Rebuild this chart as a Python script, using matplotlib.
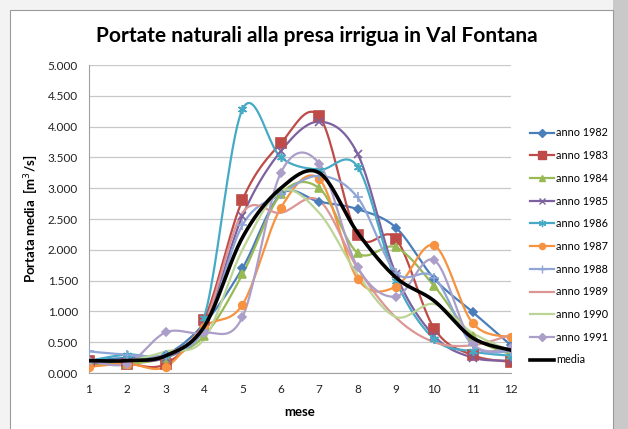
import numpy as np
import matplotlib.pyplot as plt
from matplotlib.patches import Rectangle
from matplotlib.ticker import FuncFormatter

plt.rcParams["font.family"] = ["Lato", "DejaVu Sans"]

mesi = np.arange(1, 13)

anno_1982 = [0.20, 0.25, 0.30, 0.80, 1.70, 2.90, 2.78, 2.66, 2.36, 1.53, 0.99, 0.45]
anno_1983 = [0.20, 0.15, 0.15, 0.86, 2.81, 3.73, 4.17, 2.24, 2.18, 0.72, 0.29, 0.18]
anno_1984 = [0.15, 0.15, 0.25, 0.60, 1.60, 2.90, 3.00, 1.95, 2.04, 1.41, 0.60, 0.30]
anno_1985 = [0.15, 0.20, 0.25, 0.75, 2.55, 3.60, 4.08, 3.56, 1.60, 0.60, 0.25, 0.20]
anno_1986 = [0.20, 0.30, 0.30, 0.90, 4.28, 3.50, 3.30, 3.35, 1.50, 0.55, 0.35, 0.28]
anno_1987 = [0.10, 0.15, 0.10, 0.75, 1.11, 2.68, 3.15, 1.53, 1.40, 2.07, 0.81, 0.58]
anno_1988 = [0.35, 0.30, 0.30, 0.70, 2.40, 2.90, 3.20, 2.85, 1.63, 1.55, 0.45, 0.35]
anno_1989 = [0.20, 0.20, 0.30, 0.80, 2.60, 2.60, 2.80, 1.70, 0.90, 0.50, 0.45, 0.62]
anno_1990 = [0.20, 0.20, 0.35, 0.55, 2.00, 2.95, 2.60, 1.60, 0.91, 1.12, 0.65, 0.35]
anno_1991 = [0.20, 0.15, 0.66, 0.65, 0.91, 3.25, 3.40, 1.72, 1.24, 1.83, 0.48, 0.40]
media     = [0.20, 0.20, 0.28, 0.75, 2.20, 3.00, 3.25, 2.28, 1.55, 1.17, 0.57, 0.37]

serie = [
    ("anno 1982", anno_1982, "#4a7ebb", "D", 4.5),
    ("anno 1983", anno_1983, "#be4b48", "s", 6.5),
    ("anno 1984", anno_1984, "#98b954", "^", 5.5),
    ("anno 1985", anno_1985, "#7d60a0", "x", 5.5),
    ("anno 1986", anno_1986, "#46aac5", (6, 2, 0), 6.5),
    ("anno 1987", anno_1987, "#f69240", "o", 5.5),
    ("anno 1988", anno_1988, "#8ea5d6", "+", 6.5),
    ("anno 1989", anno_1989, "#dc9694", None, 0),
    ("anno 1990", anno_1990, "#bcd597", None, 0),
    ("anno 1991", anno_1991, "#ab9ec8", "D", 4.5),
]


# curva liscia tipo Excel (Catmull-Rom / Bezier)
def liscia(x, y, n=24):
    p = np.column_stack([x, y]).astype(float)
    p = np.vstack([p[0], p, p[-1]])
    out = []
    t = np.linspace(0, 1, n)[:, None]
    for i in range(1, len(p) - 2):
        p0, p1, p2, p3 = p[i - 1], p[i], p[i + 1], p[i + 2]
        c1 = p1 + (p2 - p0) / 6
        c2 = p2 - (p3 - p1) / 6
        seg = ((1 - t) ** 3) * p1 + 3 * ((1 - t) ** 2) * t * c1 \
            + 3 * (1 - t) * t ** 2 * c2 + t ** 3 * p2
        out.append(seg if i == 1 else seg[1:])
    out = np.vstack(out)
    return out[:, 0], out[:, 1]


fig = plt.figure(figsize=(6.28, 4.29), dpi=100)
fig.patch.set_facecolor("#f3f3f3")
W, H = 628, 429
fig.add_artist(Rectangle((613 / W, 0), 15 / W, 1, transform=fig.transFigure,
                         facecolor="#c9c9c9", edgecolor="none", zorder=0))
fig.add_artist(Rectangle((10 / W, -0.01), 603 / W, 1 - 10 / H + 0.01,
                         transform=fig.transFigure, facecolor="white",
                         edgecolor="#9a9a9a", linewidth=0.8, zorder=0))

ax = fig.add_axes([89 / W, 1 - 373 / H, (511 - 89) / W, (373 - 65) / H])
ax.set_facecolor("white")

for nome, val, col, mk, ms in serie:
    xs, ys = liscia(mesi, val)
    ax.plot(xs, ys, color=col, lw=1.6, zorder=2)
    if mk is not None:
        ax.plot(mesi, val, linestyle="none", marker=mk, markersize=ms,
                color=col, markeredgecolor=col, markeredgewidth=1.2, zorder=3)
xs, ys = liscia(mesi, media)
ax.plot(xs, ys, color="black", lw=2.6, zorder=4)

# legenda
handles = []
for nome, val, col, mk, ms in serie:
    h, = ax.plot([], [], color=col, lw=1.6, marker=mk, markersize=ms * 0.8,
                 markeredgecolor=col, markeredgewidth=1.0, label=nome)
    handles.append(h)
h, = ax.plot([], [], color="black", lw=2.6, label="media")
handles.append(h)
fig.legend(handles=handles, loc="upper left", bbox_to_anchor=(525 / W, 1 - 122 / H),
           frameon=False, handlelength=2.2, handletextpad=0.15,
           labelspacing=1.08, borderpad=0,
           prop={"family": "Lato", "size": 7.8})

ax.set_xlim(1, 12)
ax.set_ylim(0, 5)
ax.set_xticks(mesi)
ax.set_yticks(np.arange(0, 5.01, 0.5))
ax.yaxis.set_major_formatter(FuncFormatter(lambda v, p: f"{v:.3f}"))
ax.grid(axis="y", color="#c8c8c8", lw=0.9)
ax.set_axisbelow(True)
for s in ["top", "right"]:
    ax.spines[s].set_visible(False)
for s in ["left", "bottom"]:
    ax.spines[s].set_color("#a0a0a0")
ax.tick_params(axis="both", length=0, labelsize=8.5, pad=8, colors="#222222")
ax.set_xlabel("mese", fontsize=9.5, fontweight="bold", labelpad=8)
ax.set_ylabel("Portata media  [m$^3$/s]", fontsize=9.5, fontweight="bold", labelpad=6)

fig.text(0.505, 1 - 36 / H, "Portate naturali alla presa irrigua in Val Fontana",
         ha="center", va="center", fontsize=15, fontweight="bold")

fig.savefig("out.png", dpi=100, facecolor=fig.get_facecolor())
